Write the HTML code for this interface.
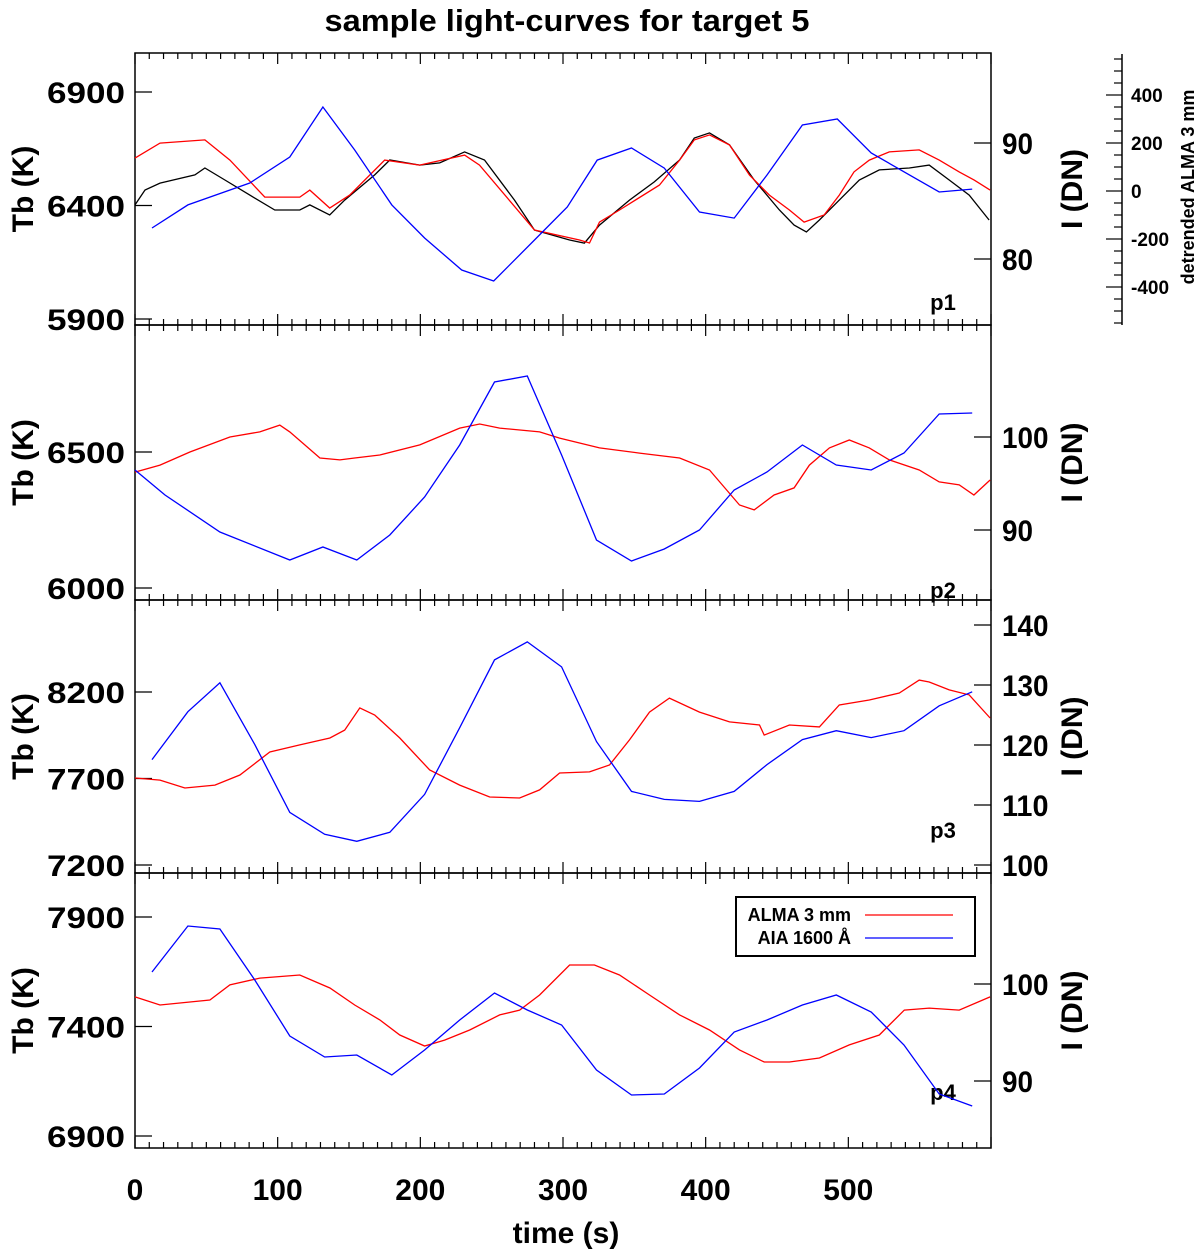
<!DOCTYPE html>
<html><head><meta charset="utf-8"><style>
body{margin:0;background:#fff}
svg{display:block;font-family:"Liberation Sans",Arial,sans-serif;font-weight:bold}
</style></head><body>
<svg id="c" width="1200" height="1254" viewBox="0 0 1200 1254"></svg>
<script>
// ---- data ----
const p1RedT=[0,17.5,49,66.5,91,115.5,122.5,136.5,150.5,175,199.5,231,241.5,280,311.6,318.6,325.6,339.6,367.6,381.7,392,402.7,416.7,430.7,444.7,458.7,469,483,493.7,504,514.7,528.7,549.7,563.7,577.7,588.2,599.4];
const p1RedV=[6609,6675,6689,6600,6437,6437,6468,6389,6446,6600,6578,6622,6578,6292,6248,6235,6327,6380,6490,6600,6689,6711,6667,6534,6446,6380,6327,6358,6446,6548,6600,6636,6645,6600,6548,6512,6468];
const p1BlkT=[0,7,17.5,42,49,63,80.5,98,115.5,122.5,136.5,147,168,178.6,199.6,213.6,231,245,266,280,304.6,315,325.6,346.6,364,381.7,392,402.7,416.7,434,451.7,462,470.6,479.7,493.7,507.7,521.7,542.7,556.7,570.7,584.7,598.7];
const p1BlkV=[-58,4,33,67,96,46,-17,-79,-79,-58,-100,-38,67,129,108,117,163,129,-38,-163,-204,-217,-142,-38,38,129,221,242,192,46,-79,-142,-171,-121,-38,46,88,96,108,46,-17,-121];
const p1BlueT=[11.9,37.1,80.5,108.5,131.7,154,180,203,229,251.4,280,303,324,348,371,395.7,420,443,467.8,492.3,516,563.7,586.8];
const p1BlueV=[82.67,84.66,86.55,88.79,93.10,89.40,84.66,81.81,79.05,78.10,81.64,84.48,88.53,89.57,87.84,84.05,83.53,87.24,91.55,92.07,89.14,85.78,86.03];
const p2RedT=[0,17.5,38.5,66.5,87.5,101.5,108.5,129.6,143.6,154,171.6,199.6,227.6,241.6,255.6,283.6,297.6,325.6,353.6,381.7,402.7,423.7,434,448,462,472.7,486.7,500.7,514.7,528.7,549.7,563.7,577.7,588,599.4];
const p2RedV=[6426,6452,6500,6555,6574,6599,6574,6478,6471,6478,6489,6526,6588,6603,6588,6574,6551,6515,6496,6478,6434,6305,6287,6342,6368,6452,6515,6544,6515,6471,6434,6390,6379,6342,6397];
const p2BlueT=[0,21,59.5,108.5,131.7,155.5,178.6,203,227.6,252,275,299,323.5,348,371,395.7,420,443,467.8,491.6,516,539,563.7,586.8];
const p2BlueV=[96.45,93.76,89.78,86.77,88.17,86.77,89.46,93.55,99.14,105.91,106.56,98.06,88.92,86.67,87.96,90.00,94.30,96.24,99.14,96.99,96.45,98.28,102.47,102.58];
const p3RedT=[0,17.5,35,56,73.5,94.5,115.5,136.6,147,157.6,168,185.6,206.6,227.6,248.6,269.6,283.6,297.6,318.6,332.6,346.6,360.6,374.6,395.7,416.7,437.7,441,458.7,479.7,493.7,514.7,535.7,549.7,556.7,570.7,584.7,599.4];
const p3RedV=[7703,7691,7645,7662,7720,7853,7894,7934,7980,8108,8067,7934,7749,7662,7593,7587,7634,7732,7738,7778,7923,8084,8165,8084,8027,8009,7951,8009,7998,8125,8154,8194,8269,8258,8212,8183,8050];
const p3BlueT=[11.9,37.1,59.5,84,108.5,133,155.5,178.6,203,227.6,252,275,299,323.5,348,371,395.7,420,443,467.8,491.6,516,539,563.7,586.8];
const p3BlueV=[117.57,125.55,130.37,120.07,108.77,105.12,103.95,105.45,111.76,122.89,134.19,137.18,133.02,120.56,112.26,110.93,110.60,112.26,116.74,120.90,122.39,121.23,122.39,126.54,128.87];
const p4RedT=[0,17.5,38.5,52.5,66.5,87.5,115.5,136.6,154,171.6,185.6,203,217,234.6,255.6,269.6,283.6,304.6,322,339.6,360.6,381.7,402.7,423.7,441,458.7,479.7,500.7,521.7,539.2,556.7,577.7,599.4];
const p4RedV=[7535,7498,7512,7521,7590,7621,7635,7576,7498,7430,7361,7311,7338,7384,7453,7475,7544,7681,7681,7635,7544,7453,7384,7293,7238,7238,7256,7316,7361,7475,7484,7475,7535];
const p4BlueT=[11.9,37.1,59.5,84,108.5,133,155.5,180,203,227.6,252,275,299,323.5,348,371,395.7,420,443,467.8,491.6,516,539,563.7,586.8];
const p4BlueV=[101.24,105.98,105.67,100.41,94.64,92.47,92.68,90.62,93.20,96.29,99.07,97.32,95.77,91.13,88.56,88.66,91.34,95.05,96.29,97.84,98.87,97.11,93.71,88.66,87.42];
const xTicks=[0,100,200,300,400,500];
const p1LeftTicks=[5900,6400,6900], p1RightTicks=[80,90], p1DetTicks=[-400,-200,0,200,400];
const p2LeftTicks=[6000,6500], p2RightTicks=[90,100];
const p3LeftTicks=[7200,7700,8200], p3RightTicks=[100,110,120,130,140];
const p4LeftTicks=[6900,7400,7900], p4RightTicks=[90,100];

// ---- layout ----
const svg=document.getElementById('c');
const NS='http://www.w3.org/2000/svg';
const X0=135,X1=991;
const xs=t=>X0+(t/600)*(X1-X0);
function el(tag,attrs,parent){const e=document.createElementNS(NS,tag);for(const k in attrs)e.setAttribute(k,attrs[k]);(parent||svg).appendChild(e);return e;}
function txt(s,x,y,size,anchor,parent,rot){const t=el('text',{x:x,y:y,'font-size':size,'text-anchor':anchor||'middle'},parent);if(rot)t.setAttribute('transform',`rotate(${rot} ${x} ${y})`);t.textContent=s;return t;}
function fit(t,w){t.setAttribute('textLength',w);t.setAttribute('lengthAdjust','spacingAndGlyphs');}
function lin(v0,v1,p0,p1){return v=>p0+(v-v0)/(v1-v0)*(p1-p0);}
function path(T,V,xf,yf,color,name,g){let d='';T.forEach((t,i)=>{d+=(i?'L':'M')+xf(t).toFixed(1)+','+yf(V[i]).toFixed(1);});
 const p=el('path',{d:d,fill:'none',stroke:color,'stroke-width':1.3},g);
 
 }

const title=txt('sample light-curves for target 5',567,31,31,'middle');
fit(title,485);



const yd=lin(0,200,191,143);
const panels=[
 {top:53,bot:325,lt:[6900,92,5900,319],rt:[90,143,80,259],red:[p1RedT,p1RedV],blue:[p1BlueT,p1BlueV],lTicks:p1LeftTicks,rTicks:p1RightTicks,lab:'p1',labY:310},
 {top:325,bot:600,lt:[6500,452,6000,588],rt:[100,437,90,530],red:[p2RedT,p2RedV],blue:[p2BlueT,p2BlueV],lTicks:p2LeftTicks,rTicks:p2RightTicks,lab:'p2',labY:598},
 {top:600,bot:873,lt:[8200,692,7200,865],rt:[140,625,100,865],red:[p3RedT,p3RedV],blue:[p3BlueT,p3BlueV],lTicks:p3LeftTicks,rTicks:p3RightTicks,lab:'p3',labY:838},
 {top:873,bot:1148,lt:[7900,917,6900,1136],rt:[100,984,90,1081],red:[p4RedT,p4RedV],blue:[p4BlueT,p4BlueV],lTicks:p4LeftTicks,rTicks:p4RightTicks,lab:'p4',labY:1100}
];
panels.forEach((P,i)=>{
 const g=el('g',{});
 
 
 const yl=lin(P.lt[0],P.lt[2],P.lt[1],P.lt[3]);
 const yr=lin(P.rt[0],P.rt[2],P.rt[1],P.rt[3]);
 el('rect',{x:X0,y:P.top,width:X1-X0,height:P.bot-P.top,fill:'none',stroke:'#000','stroke-width':1.5},g);
 for(let t=0;t<=600;t+=10){const len=t%100===0?11:6;const x=xs(t);
  el('line',{x1:x,x2:x,y1:P.bot,y2:P.bot-len,stroke:'#000','stroke-width':1.2},g);
  el('line',{x1:x,x2:x,y1:P.top,y2:P.top+len,stroke:'#000','stroke-width':1.2},g);}
 P.lTicks.forEach(v=>{const y=yl(v);el('line',{x1:X0,x2:X0+17,y1:y,y2:y,stroke:'#000','stroke-width':1.2},g);
  const t=txt(String(v),125,y+11,30,'end',g);fit(t,78);
  
  });
 P.rTicks.forEach(v=>{const y=yr(v);el('line',{x1:X1,x2:X1-17,y1:y,y2:y,stroke:'#000','stroke-width':1.2},g);
  const t=txt(String(v),1002,y+11,30,'start',g);fit(t,String(v).length*15.5);
  
  });
 const ly=txt('Tb (K)',33,(P.top+P.bot)/2,30,'middle',g,-90);
 
 
 const ry=txt('I (DN)',1082,(P.top+P.bot)/2,30,'middle',g,-90);
 
 
 const pl=txt(P.lab,943,P.labY,22,'middle',g);
 
 
 if(i===0){
  path(p1BlkT,p1BlkV,xs,yd,'#000','detrended-alma-line',g);
 }
 path(P.red[0],P.red[1],xs,yl,'#ff0000','alma-line',g);
 path(P.blue[0],P.blue[1],xs,yr,'#0000ff','aia-line',g);
});

// detrended axis
const gd=el('g',{});


el('line',{x1:1122,x2:1122,y1:54,y2:325,stroke:'#000','stroke-width':1.5},gd);
for(let v=-550;v<=550;v+=50){const y=yd(v);if(y<54||y>325)continue;const len=v%200===0?16:8;
 el('line',{x1:1122,x2:1122-len,y1:y,y2:y,stroke:'#000','stroke-width':1.2},gd);}
p1DetTicks.forEach(v=>{const t=txt(String(v),1131,yd(v)+7,19,'start',gd);
 
 });
const dt=txt('detrended ALMA 3 mm',1194,187,18,'middle',gd,-90);



xTicks.forEach(t=>{const l=txt(String(t),xs(t),1200,30,'middle');
 
 });
const xt=txt('time (s)',566,1243,30,'middle');



const lg=el('g',{});


el('rect',{x:736,y:897,width:239,height:59,fill:'#fff',stroke:'#000','stroke-width':2},lg);
const l1=txt('ALMA 3 mm',851,921,18,'end',lg);


el('line',{x1:865,x2:953,y1:915,y2:915,stroke:'#ff0000','stroke-width':1.3},lg);
const l2=txt('AIA 1600 Å',851,944,18,'end',lg);


el('line',{x1:865,x2:953,y1:938,y2:938,stroke:'#0000ff','stroke-width':1.3},lg);
</script>
</body></html>
